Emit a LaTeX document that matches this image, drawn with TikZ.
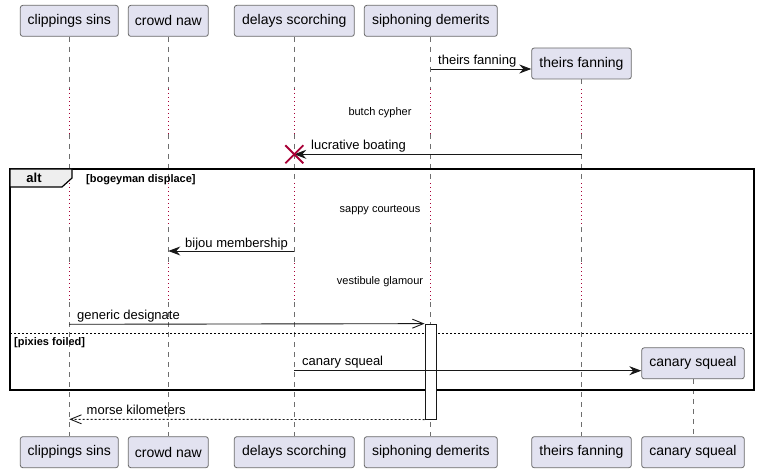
\documentclass[tikz,border=0pt]{standalone}
\usepackage{fontspec}
\setmainfont{Liberation Sans}
\usetikzlibrary{arrows.meta}
\definecolor{partfill}{HTML}{E2E2F0}
\definecolor{partdraw}{HTML}{6A6A6A}
\definecolor{lifegray}{HTML}{6E6E6E}
\definecolor{delayred}{HTML}{A80036}
\definecolor{tabfill}{HTML}{EEEEEE}
\definecolor{ink}{HTML}{181818}
\begin{document}
\begin{tikzpicture}[x=1pt,y=-1pt,
  part/.style={draw=partdraw, fill=partfill, rounded corners=2.5pt, line width=0.8pt, inner sep=0pt, minimum height=31pt, font=\fontsize{14}{16}\selectfont, text=black},
  life/.style={draw=lifegray, dash pattern=on 5pt off 5pt, line width=0.7pt},
  delayline/.style={draw=delayred, dash pattern=on 1pt off 3pt, line width=0.9pt},
  msg/.style={draw=ink, line width=0.9pt, -{Stealth[length=12pt,width=9pt,inset=4pt]}},
  openmsg/.style={draw=ink, line width=0.9pt, -{Straight Barb[length=11pt,width=9pt,line width=0.9pt]}},
  msglabel/.style={font=\fontsize{13}{15}\selectfont, text=black, inner sep=0pt, anchor=base west},
  delaytext/.style={font=\fontsize{11}{13}\selectfont, text=black, inner sep=0pt, anchor=base},
  grouptext/.style={font=\fontsize{11}{13}\selectfont\bfseries, text=black, inner sep=0pt, anchor=base west},
  activation/.style={draw=ink, fill=white, line width=0.9pt, inner sep=0pt}
]
\useasboundingbox (0,0) rectangle (760,473);

% participants (top)
\node[part, minimum width=98pt] (cs) at (69.3,20.85) {clippings sins};
\node[part, minimum width=80pt] (cn) at (168.3,20.85) {crowd naw};
\node[part, minimum width=120pt] (ds) at (294.3,20.85) {delays scorching};
\node[part, minimum width=133pt] (sd) at (430.8,20.85) {siphoning demerits};
\node[part, minimum width=99.6pt] (tf) at (581.5,63.5) {theirs fanning};
\node[part, minimum width=102.6pt] (cq) at (693,363.3) {canary squeal};
% participants (bottom)
\node[part, minimum width=98pt] (bcs) at (69.3,452.2) {clippings sins};
\node[part, minimum width=80pt] (bcn) at (168.3,452.2) {crowd naw};
\node[part, minimum width=120pt] (bds) at (294.3,452.2) {delays scorching};
\node[part, minimum width=133pt] (bsd) at (430.8,452.2) {siphoning demerits};
\node[part, minimum width=99.6pt] (btf) at (581.5,452.2) {theirs fanning};
\node[part, minimum width=102.6pt] (bcq) at (693,452.2) {canary squeal};

% lifelines with delays
\foreach \n in {cs,cn,ds,sd,tf}{
  \draw[life] (\n.south) -- (\n.south |- 0,89);
  \draw[delayline] (\n.south |- 0,89) -- (\n.south |- 0,134);
  \draw[life] (\n.south |- 0,134) -- (\n.south |- 0,183);
  \draw[delayline] (\n.south |- 0,183) -- (\n.south |- 0,227);
  \draw[life] (\n.south |- 0,227) -- (\n.south |- 0,263);
  \draw[delayline] (\n.south |- 0,263) -- (\n.south |- 0,302);
  \draw[life] (\n.south |- 0,302) -- (b\n.north);
}
\draw[life] (cq.south) -- (bcq.north);

% delay texts
\node[delaytext] (d1) at (380,115.5) {butch cypher};
\node[delaytext] (d2) at (380,212.5) {sappy courteous};
\node[delaytext] (d3) at (380,284.5) {vestibule glamour};

% alt frame
\draw[draw=black, line width=1.8pt] (10,169) rectangle (754,390);
\draw[draw=black, line width=1.2pt, fill=tabfill] (10,169) -- (72,169) -- (72,178) -- (62,187) -- (10,187) -- cycle;
\node[font=\fontsize{13}{15}\selectfont\bfseries, inner sep=0pt, anchor=base] (alt) at (34,183) {alt};
\node[grouptext] (g1) at (86,183) {[bogeyman displace]};
\draw[draw=black, dash pattern=on 2pt off 2pt, line width=0.8pt] (10,333) -- (754,333);
\node[grouptext] (g2) at (14,345) {[pixies foiled]};

% activation on siphoning demerits
\node[activation, minimum width=11pt, minimum height=95pt] (act) at (430.5,371.6) {};

% messages
\draw[msg] (sd.south |- 0,69) -- (tf.west |- 0,69);
\node[msglabel] at (438,65) {theirs fanning};

\coordinate (xd) at (ds.south |- 0,154.3);
\draw[msg] (tf.south |- 0,154.3) -- (xd);
\node[msglabel] at (311,150) {lucrative boating};
\draw[draw=delayred, line width=1.8pt] ([shift={(-9,-9)}]xd) -- ([shift={(9,9)}]xd);
\draw[draw=delayred, line width=1.8pt] ([shift={(-9,9)}]xd) -- ([shift={(9,-9)}]xd);

\draw[msg] (ds.south |- 0,251) -- (cn.south |- 0,251);
\node[msglabel] at (185,247) {bijou membership};

\draw[openmsg] (cs.south |- 0,324.3) -- (act.north west);
\node[msglabel] at (77,319.5) {generic designate};

\draw[msg] (ds.south |- 0,370.7) -- (cq.west |- 0,370.7);
\node[msglabel] at (302,365) {canary squeal};

\draw[openmsg, dash pattern=on 2pt off 2pt] (act.south west) -- (cs.south |- 0,419.3);
\node[msglabel] at (86.5,414.5) {morse kilometers};
\end{tikzpicture}
\end{document}
